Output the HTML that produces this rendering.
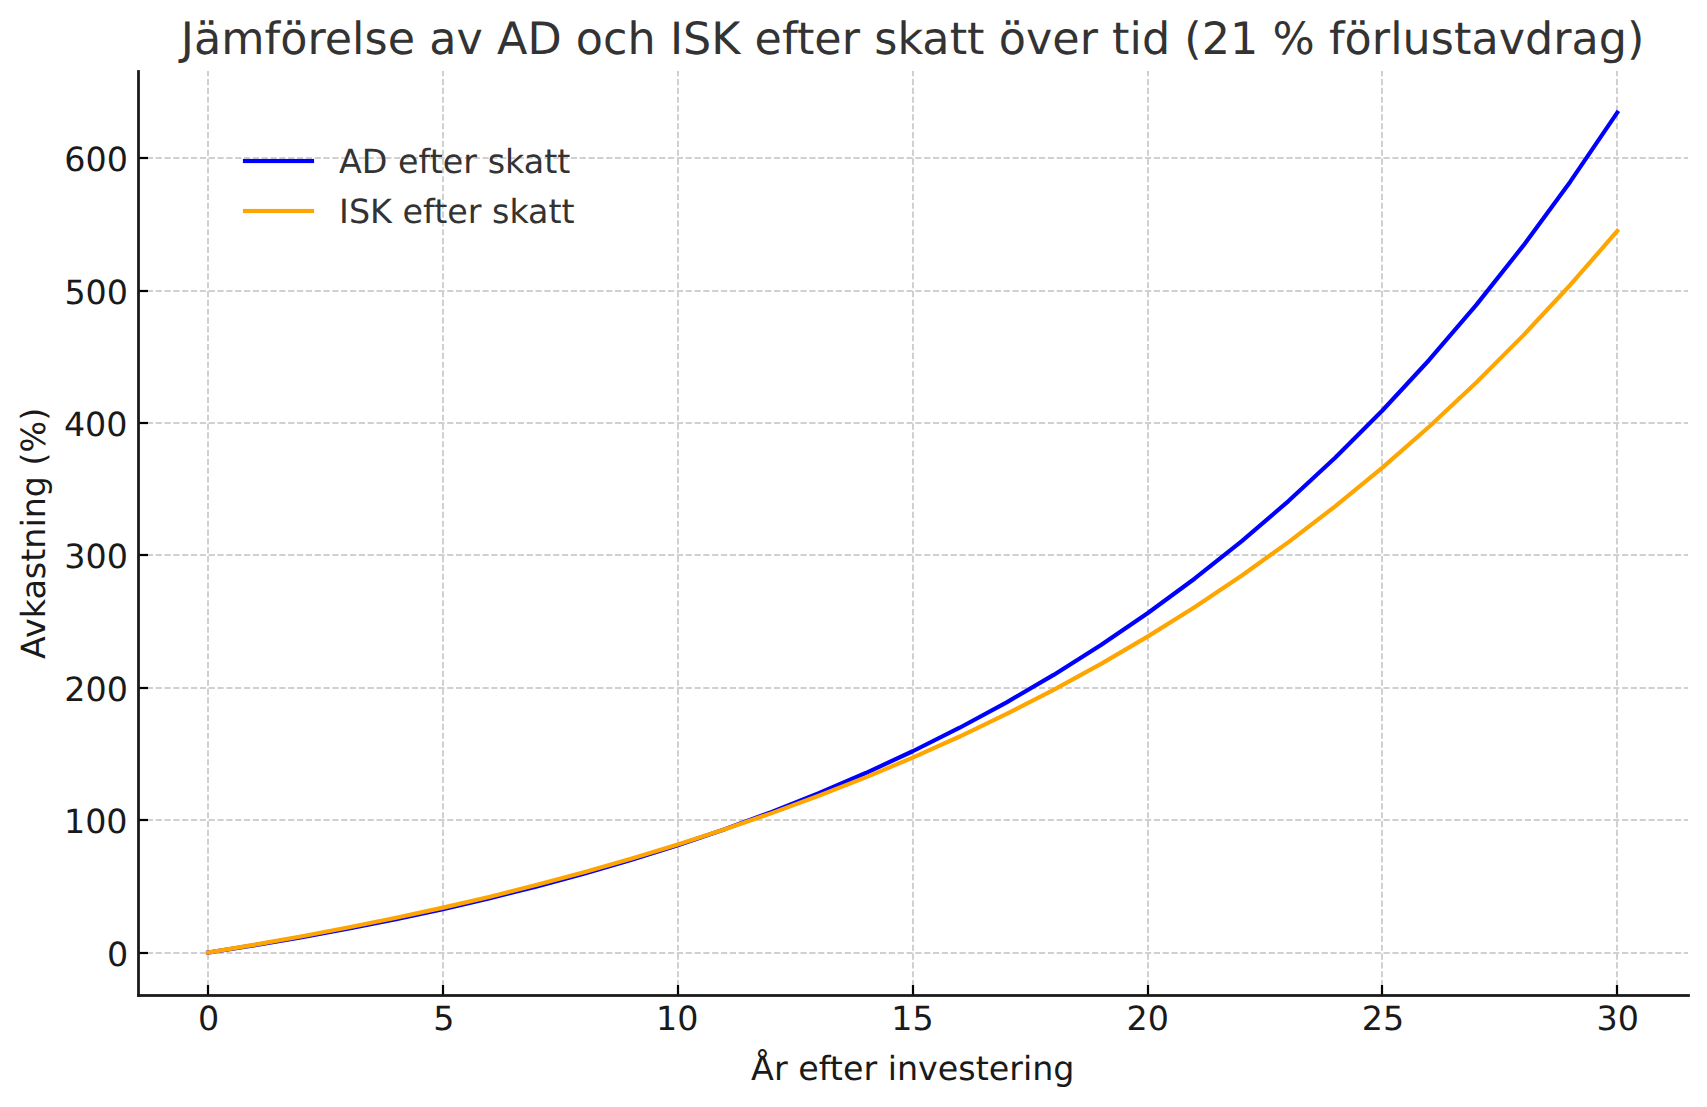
<!DOCTYPE html>
<html lang="sv">
<head>
<meta charset="utf-8">
<title>Jämförelse av AD och ISK efter skatt över tid</title>
<style>
html,body{margin:0;padding:0;background:#fff;}
body{width:1707px;height:1107px;overflow:hidden;}
svg{display:block;}
text{font-family:"DejaVu Sans","Liberation Sans",sans-serif;text-rendering:geometricPrecision;}
.t12{font-size:33.333px;fill:#1a1a1a;}
.lg{font-size:33.333px;fill:#333333;}
.ttl{font-size:44.444px;fill:#333333;letter-spacing:0.036px;}
.grid line{stroke:#d0d0d0;stroke-width:2;stroke-dasharray:6.1667 2.6667;}
.tick line{stroke:#000;stroke-width:2.222;}
.series{fill:none;stroke-width:4.1667;stroke-linecap:square;stroke-linejoin:round;}
</style>
</head>
<body>
<svg width="1707" height="1107" viewBox="0 0 1707 1107">
<rect x="0" y="0" width="1707" height="1107" fill="#ffffff"/>
<g class="grid">
<line x1="208" y1="995" x2="208" y2="71"/>
<line x1="443" y1="995" x2="443" y2="71"/>
<line x1="678" y1="995" x2="678" y2="71"/>
<line x1="913" y1="995" x2="913" y2="71"/>
<line x1="1148" y1="995" x2="1148" y2="71"/>
<line x1="1382" y1="995" x2="1382" y2="71"/>
<line x1="1617" y1="995" x2="1617" y2="71"/>
<line x1="138" y1="953" x2="1688" y2="953"/>
<line x1="138" y1="820" x2="1688" y2="820"/>
<line x1="138" y1="688" x2="1688" y2="688"/>
<line x1="138" y1="555" x2="1688" y2="555"/>
<line x1="138" y1="423" x2="1688" y2="423"/>
<line x1="138" y1="291" x2="1688" y2="291"/>
<line x1="138" y1="158" x2="1688" y2="158"/>
</g>
<polyline class="series" stroke="#0000ff" points="208.16,952.59 255.13,945.17 302.10,937.17 349.07,928.52 396.04,919.18 443.01,909.09 489.98,898.19 536.95,886.43 583.92,873.72 630.89,859.99 677.86,845.17 724.83,829.16 771.80,811.87 818.77,793.20 865.74,773.03 912.71,751.25 959.68,727.73 1006.65,702.33 1053.62,674.89 1100.59,645.26 1147.56,613.26 1194.53,578.70 1241.50,541.37 1288.47,501.06 1335.44,457.52 1382.41,410.50 1429.38,359.72 1476.34,304.88 1523.31,245.65 1570.28,181.68 1617.25,112.59"/>
<polyline class="series" stroke="#ffa500" points="208.16,952.59 255.13,944.64 302.10,936.19 349.07,927.24 396.04,917.76 443.01,907.63 489.98,896.66 536.95,884.82 583.92,872.17 630.89,858.76 677.86,844.51 724.83,829.33 771.80,813.13 818.77,795.82 865.74,777.34 912.71,757.60 959.68,736.51 1006.65,713.97 1053.62,689.88 1100.59,664.14 1147.56,636.63 1194.53,607.21 1241.50,575.76 1288.47,542.12 1335.44,506.15 1382.41,467.68 1429.38,426.52 1476.34,382.50 1523.31,335.39 1570.28,284.99 1617.25,231.05"/>
<g class="tick">
<line x1="208" y1="995.5" x2="208" y2="985"/>
<line x1="443" y1="995.5" x2="443" y2="985"/>
<line x1="678" y1="995.5" x2="678" y2="985"/>
<line x1="913" y1="995.5" x2="913" y2="985"/>
<line x1="1148" y1="995.5" x2="1148" y2="985"/>
<line x1="1382" y1="995.5" x2="1382" y2="985"/>
<line x1="1617" y1="995.5" x2="1617" y2="985"/>
<line x1="138.5" y1="953" x2="148" y2="953"/>
<line x1="138.5" y1="820" x2="148" y2="820"/>
<line x1="138.5" y1="688" x2="148" y2="688"/>
<line x1="138.5" y1="555" x2="148" y2="555"/>
<line x1="138.5" y1="423" x2="148" y2="423"/>
<line x1="138.5" y1="291" x2="148" y2="291"/>
<line x1="138.5" y1="158" x2="148" y2="158"/>
</g>
<g fill="#1a1a1a">
<rect x="137.11" y="70.1" width="2.78" height="926.79"/>
<rect x="137.11" y="994.11" width="1552.79" height="2.78"/>
</g>
<g class="t12" text-anchor="middle">
<text x="208.73" y="1030.00">0</text>
<text x="443.82" y="1030.00">5</text>
<text x="677.33" y="1030.00">10</text>
<text x="912.49" y="1030.00">15</text>
<text x="1147.66" y="1030.00">20</text>
<text x="1382.94" y="1030.00">25</text>
<text x="1617.67" y="1030.00">30</text>
</g>
<g class="t12" text-anchor="end">
<text x="128.34" y="966.00">0</text>
<text x="127.59" y="833.00">100</text>
<text x="127.98" y="701.00">200</text>
<text x="127.94" y="568.00">300</text>
<text x="127.52" y="436.00">400</text>
<text x="128.00" y="304.00">500</text>
<text x="127.93" y="171.00">600</text>
</g>
<text class="t12" text-anchor="middle" x="912.80" y="1080.00">År efter investering</text>
<text class="t12" text-anchor="middle" transform="translate(45.00 533.35) rotate(-90)">Avkastning (%)</text>
<text class="ttl" text-anchor="middle" x="912.61" y="54.00">Jämförelse av AD och ISK efter skatt över tid (21 % förlustavdrag)</text>
<rect x="242.92" y="158.92" width="71.16" height="4.16" fill="#0000ff"/>
<rect x="242.92" y="208.92" width="71.16" height="4.16" fill="#ffa500"/>
<text class="lg" x="339.07" y="173.00">AD efter skatt</text>
<text class="lg" x="339.07" y="223.00">ISK efter skatt</text>
</svg>
</body>
</html>
